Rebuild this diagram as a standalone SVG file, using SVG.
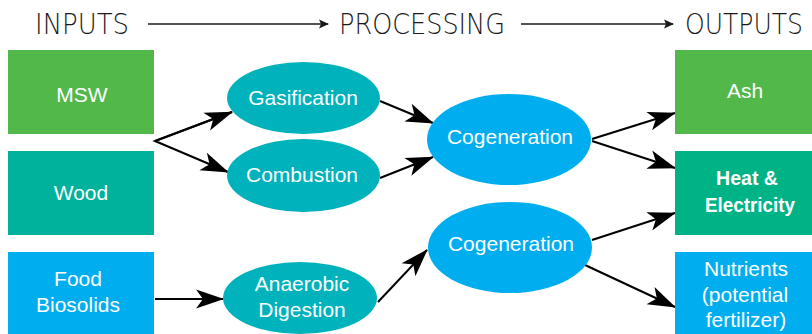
<svg xmlns="http://www.w3.org/2000/svg" width="812" height="334" viewBox="0 0 812 334">
<style>
.hdr{font-family:"DejaVu Sans","Liberation Sans",sans-serif;font-weight:200;font-size:29px;fill:#1a1a1a}
.t{font-family:"Liberation Sans","DejaVu Sans",sans-serif;font-size:21px;fill:#fff;text-anchor:middle}
.b{font-weight:bold}
.green{fill:#53b84a}
.wood{fill:#00b19c}
.heat{fill:#00b386}
.blue{fill:#00aeef}
.teal{fill:#00b2bb}
.c{fill:none;stroke:#000;stroke-width:2}
.h{fill:none;stroke:#1a1a1a;stroke-width:1.5}
</style>
<defs>
<marker id="ah" markerUnits="userSpaceOnUse" markerWidth="30" markerHeight="22" viewBox="-28 -11 30 22" refX="0" refY="0" orient="auto">
<path d="M1,0 L-27,-9.5 L-20,0 L-27,9.5 Z" fill="#000"/>
</marker>
<marker id="hh" markerUnits="userSpaceOnUse" markerWidth="12" markerHeight="10" viewBox="-10 -5 12 10" refX="0" refY="0" orient="auto">
<path d="M1,0 L-9,-4.5 L-7,0 L-9,4.5 Z" fill="#1a1a1a"/>
</marker>
</defs>
<g id="header">
<text class="hdr" x="35" y="34" textLength="94" lengthAdjust="spacingAndGlyphs">INPUTS</text>
<text class="hdr" x="339" y="34" textLength="166" lengthAdjust="spacingAndGlyphs">PROCESSING</text>
<text class="hdr" x="685" y="34" textLength="118" lengthAdjust="spacingAndGlyphs">OUTPUTS</text>
</g>
<g id="connectors">
<line class="h" x1="148" y1="24" x2="328" y2="24" marker-end="url(#hh)"/>
<line class="h" x1="521" y1="24" x2="673" y2="24" marker-end="url(#hh)"/>
<polyline class="c" points="232,112 155,141 228,172" marker-end="url(#ah)"/>
<line class="c" x1="155" y1="141" x2="232" y2="112" marker-end="url(#ah)"/>
<line class="c" x1="155" y1="299" x2="223" y2="299" marker-end="url(#ah)"/>
<line class="c" x1="378" y1="302" x2="427" y2="250" marker-end="url(#ah)"/>
<line class="c" x1="380" y1="101" x2="433" y2="123" marker-end="url(#ah)"/>
<line class="c" x1="380" y1="178" x2="433" y2="157" marker-end="url(#ah)"/>
<line class="c" x1="592" y1="139" x2="675" y2="113" marker-end="url(#ah)"/>
<line class="c" x1="592" y1="141" x2="675" y2="168" marker-end="url(#ah)"/>
<line class="c" x1="592" y1="240" x2="675" y2="213" marker-end="url(#ah)"/>
<line class="c" x1="585" y1="265" x2="675" y2="307" marker-end="url(#ah)"/>
</g>
<g id="msw"><rect class="green" x="8" y="50" width="146" height="84"/><text class="t" x="82" y="102">MSW</text></g>
<g id="wood"><rect class="wood" x="8" y="151" width="146" height="84"/><text class="t" x="81" y="200">Wood</text></g>
<g id="food"><rect class="blue" x="8" y="252" width="146" height="84"/><text class="t" x="78" y="286">Food</text><text class="t" x="78" y="312">Biosolids</text></g>
<g id="gasification"><ellipse class="teal" cx="303.5" cy="98" rx="76.5" ry="36"/><text class="t" x="303" y="105">Gasification</text></g>
<g id="combustion"><ellipse class="teal" cx="303.5" cy="175.5" rx="76.5" ry="36.5"/><text class="t" x="302" y="182">Combustion</text></g>
<g id="anaerobic"><ellipse class="teal" cx="300" cy="298" rx="77" ry="36"/><text class="t" x="302" y="291">Anaerobic</text><text class="t" x="302" y="317">Digestion</text></g>
<g id="cogeneration1"><ellipse class="blue" cx="509" cy="139.5" rx="82" ry="45.5"/><text class="t" x="510" y="144">Cogeneration</text></g>
<g id="cogeneration2"><ellipse class="blue" cx="510" cy="247.5" rx="82" ry="45.5"/><text class="t" x="511" y="251">Cogeneration</text></g>
<g id="ash"><rect class="green" x="675" y="50" width="137" height="84"/><text class="t" x="745" y="98">Ash</text></g>
<g id="heat"><rect class="heat" x="675" y="151" width="137" height="84"/><text class="t b" x="747" y="185" textLength="62" lengthAdjust="spacingAndGlyphs">Heat &amp;</text><text class="t b" x="750" y="212" textLength="90" lengthAdjust="spacingAndGlyphs">Electricity</text></g>
<g id="nutrients"><rect class="blue" x="675" y="252" width="137" height="84"/><text class="t" x="746" y="276">Nutrients</text><text class="t" x="745" y="302">(potential</text><text class="t" x="746" y="327">fertilizer)</text></g>
</svg>
